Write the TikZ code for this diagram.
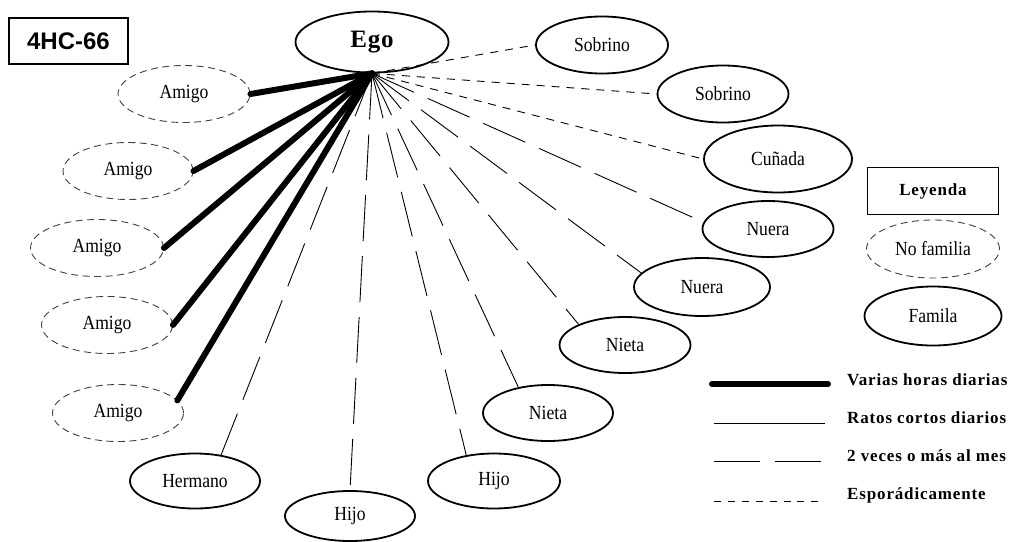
\documentclass[tikz,border=0pt]{standalone}
\usepackage{fontspec}
\setmainfont{Liberation Serif}
\newfontfamily\arialfont{Liberation Sans}
\newfontfamily\spacedfont{Liberation Serif}[LetterSpace=5]
\newfontfamily\egofont{Liberation Serif}[LetterSpace=3]
\newfontfamily\labelfont{Liberation Serif}[FakeStretch=0.88]
\usetikzlibrary{shapes.geometric}
\begin{document}
\begin{tikzpicture}[x=1pt,y=-1pt,
  fam/.style={ellipse, draw, line width=1.8pt, inner sep=0pt, minimum width=131pt, minimum height=56pt, font=\labelfont\fontsize{20}{20}\selectfont},
  nofam/.style={ellipse, draw=black!75, line width=0.9pt, dash pattern=on 7pt off 4.5pt, inner sep=0pt, minimum width=132pt, minimum height=57pt, font=\labelfont\fontsize{20}{20}\selectfont},
  boxed/.style={draw, line width=1.8pt, inner sep=0pt},
  heavy/.style={line width=6pt, line cap=round},
  daily/.style={line width=0.9pt},
  monthly/.style={line width=0.9pt, dash pattern=on 46pt off 15pt},
  sporadic/.style={line width=0.9pt, dash pattern=on 8pt off 7pt},
  legtext/.style={anchor=west, inner sep=0pt, font=\spacedfont\bfseries\fontsize{17}{17}\selectfont}]
\useasboundingbox (0,0) rectangle (1016,541);

% title and ego
\node[boxed, minimum width=119pt, minimum height=46pt, font=\arialfont\bfseries\fontsize{24}{24}\selectfont] (id) at (68.5,41) {4HC-66};
\node[ellipse, draw, line width=1.8pt, inner sep=0pt, minimum width=153pt, minimum height=61pt, font=\egofont\bfseries\fontsize{25}{25}\selectfont] (ego) at (372,42) {Ego};

% friends
\node[nofam] (a1) at (184,94) {Amigo};
\node[nofam, minimum width=130pt] (a2) at (128,171) {Amigo};
\node[nofam, minimum width=133pt] (a3) at (97,248) {Amigo};
\node[nofam, minimum width=131pt] (a4) at (107,325) {Amigo};
\node[nofam, minimum width=131pt] (a5) at (118,413) {Amigo};

% family
\node[fam, minimum width=130pt, minimum height=55pt] (her) at (195,481) {Hermano};
\node[fam, minimum width=130pt, minimum height=50pt] (hijoa) at (350,516) {Hijo};
\node[fam, minimum width=132pt, minimum height=55pt] (hijob) at (494,481) {Hijo};
\node[fam, minimum width=130pt] (nietaa) at (548,413) {Nieta};
\node[fam] (nietab) at (625,345) {Nieta};
\node[fam, minimum width=136pt, minimum height=58pt] (nueraa) at (702,287) {Nuera};
\node[fam] (nuerab) at (768,229) {Nuera};
\node[fam, minimum width=148pt, minimum height=67pt] (cun) at (778,159) {Cuñada};
\node[fam, minimum height=57pt] (soba) at (723,94) {Sobrino};
\node[fam, minimum width=132pt, minimum height=57pt] (sobb) at (602,45) {Sobrino};

% connectors
\draw[heavy] (ego.south) -- (a1.east);
\draw[heavy] (ego.south) -- (a2.east);
\draw[heavy] (ego.south) -- (a3.east);
\draw[heavy] (ego.south) -- (a4.east);
\draw[heavy] (ego.south) -- (a5.12);
\draw[monthly] (ego.south) -- (her.45);
\draw[monthly] (ego.south) -- (hijoa.north);
\draw[monthly] (ego.south) -- (hijob.137);
\draw[monthly] (ego.south) -- (nietaa.139);
\draw[monthly] (ego.south) -- (nietab.156);
\draw[monthly] (ego.south) -- (nueraa.167);
\draw[monthly] (ego.south) -- (nuerab.174);
\draw[sporadic] (ego.south) -- (cun.west);
\draw[sporadic] (ego.south) -- (soba.west);
\draw[sporadic] (ego.south) -- (sobb.west);

% legend
\node[boxed, minimum width=131pt, minimum height=47pt, font=\spacedfont\bfseries\fontsize{17}{17}\selectfont] (ley) at (933,191) {Leyenda};
\node[nofam, minimum width=133pt, minimum height=58pt] (lnf) at (933,249) {No familia};
\node[fam, minimum width=137pt, minimum height=59pt] (lf) at (933,316) {Famila};

\coordinate (h1) at (712,384); \coordinate (h2) at (828,384);
\coordinate (d1) at (714,423); \coordinate (d2) at (825,423);
\coordinate (m1) at (714,461); \coordinate (m2) at (822,461);
\coordinate (s1) at (714,501); \coordinate (s2) at (825,501);
\draw[heavy] (h1) -- (h2);
\draw[daily] (d1) -- (d2);
\draw[monthly] (m1) -- (m2);
\draw[line width=0.9pt, dash pattern=on 7pt off 6.9pt] (s1) -- (s2);
\node[legtext] (t1) at (847,380) {Varias horas diarias};
\node[legtext] (t2) at (847,418) {Ratos cortos diarios};
\node[legtext] (t3) at (847,456) {2 veces o más al mes};
\node[legtext] (t4) at (847,495) {Esporádicamente};
\end{tikzpicture}
\end{document}
